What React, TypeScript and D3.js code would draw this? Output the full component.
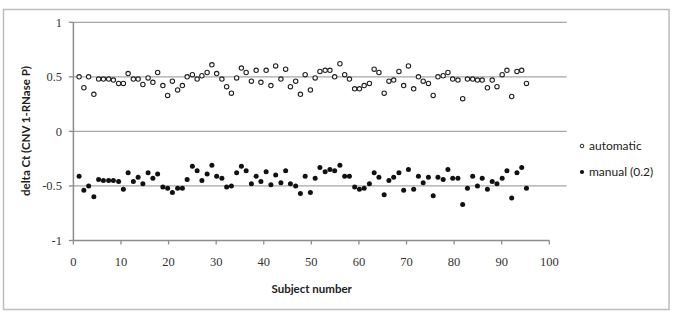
import React from "react";
import * as d3 from "d3";

// subject positions (points sit a little wider than 1 unit apart)
const subjects = [
  1.2, 2.2, 3.2, 4.3, 5.3, 6.3, 7.4, 8.4, 9.5, 10.5, 11.5, 12.6, 13.6, 14.6, 15.7, 16.7, 17.7, 18.8, 19.8, 20.8,
  21.9, 22.9, 23.9, 25.0, 26.0, 27.0, 28.1, 29.1, 30.1, 31.2, 32.2, 33.2, 34.3, 35.3, 36.3, 37.4, 38.4, 39.4, 40.5, 41.5,
  42.5, 43.6, 44.6, 45.6, 46.7, 47.7, 48.7, 49.8, 50.8, 51.8, 52.9, 53.9, 54.9, 56.0, 57.0, 58.0, 59.1, 60.1, 61.1, 62.2,
  63.2, 64.2, 65.3, 66.3, 67.3, 68.4, 69.4, 70.4, 71.5, 72.5, 73.5, 74.6, 75.6, 76.6, 77.7, 78.7, 79.7, 80.8, 81.8, 82.8,
  83.9, 84.9, 85.9, 87.0, 88.0, 89.0, 90.1, 91.1, 92.1, 93.2, 94.2, 95.2,
];

const automatic = [
  0.50, 0.40, 0.50, 0.34, 0.48, 0.48, 0.48, 0.47, 0.44, 0.44, 0.53, 0.48, 0.48, 0.43, 0.49, 0.45, 0.54, 0.42, 0.33, 0.46,
  0.38, 0.42, 0.50, 0.52, 0.48, 0.51, 0.54, 0.61, 0.53, 0.48, 0.41, 0.35, 0.49, 0.58, 0.54, 0.46, 0.56, 0.45, 0.56, 0.42,
  0.60, 0.48, 0.57, 0.41, 0.46, 0.34, 0.52, 0.38, 0.49, 0.55, 0.56, 0.56, 0.50, 0.62, 0.52, 0.48, 0.39, 0.39, 0.42, 0.44,
  0.57, 0.54, 0.35, 0.46, 0.47, 0.55, 0.42, 0.60, 0.39, 0.50, 0.46, 0.44, 0.33, 0.50, 0.51, 0.54, 0.48, 0.47, 0.30, 0.48,
  0.48, 0.47, 0.47, 0.40, 0.47, 0.41, 0.52, 0.56, 0.32, 0.55, 0.56, 0.44,
];

const manual = [
  -0.41, -0.54, -0.50, -0.60, -0.44, -0.45, -0.45, -0.45, -0.46, -0.53, -0.38, -0.46, -0.42, -0.48, -0.38, -0.43, -0.39, -0.51, -0.52, -0.56,
  -0.52, -0.52, -0.44, -0.32, -0.36, -0.45, -0.39, -0.31, -0.41, -0.43, -0.51, -0.50, -0.38, -0.32, -0.36, -0.48, -0.41, -0.46, -0.37, -0.49,
  -0.40, -0.47, -0.36, -0.48, -0.50, -0.57, -0.41, -0.56, -0.43, -0.33, -0.37, -0.35, -0.36, -0.31, -0.41, -0.41, -0.51, -0.53, -0.52, -0.48,
  -0.38, -0.42, -0.58, -0.45, -0.42, -0.38, -0.54, -0.35, -0.53, -0.41, -0.47, -0.42, -0.59, -0.42, -0.44, -0.35, -0.43, -0.43, -0.67, -0.52,
  -0.41, -0.50, -0.43, -0.53, -0.46, -0.48, -0.43, -0.36, -0.61, -0.38, -0.33, -0.52,
];

const xTicks = [0, 10, 20, 30, 40, 50, 60, 70, 80, 90, 100];
const yTicks = [-1, -0.5, 0, 0.5, 1];

const App = () => {
  const width = 675;
  const height = 324;

  const x = d3.scaleLinear().domain([0, 100]).range([73.4, 549.3]);
  const y = d3.scaleLinear().domain([-1, 1]).range([240.5, 22.3]);
  const gridRight = 566.7;

  const serif = "'Liberation Serif', 'DejaVu Serif', serif";
  const sans = "Lato, 'Open Sans', sans-serif";

  return (
    <svg
      width={width}
      height={height}
      style={{ position: "absolute", left: 0, top: 0, background: "#fff" }}
    >
      <rect x={3.5} y={9.5} width={665.5} height={300} fill="#fff" stroke="#bdbdbd" strokeWidth={1.5} />

      {/* gridlines */}
      {yTicks
        .filter((t) => t > -1)
        .map((t) => (
          <line key={t} x1={x(0)} x2={gridRight} y1={y(t)} y2={y(t)} stroke="#a6a6a6" strokeWidth={1.3} />
        ))}

      {/* y axis */}
      <line x1={x(0)} x2={x(0)} y1={y(1)} y2={y(-1)} stroke="#8c8c8c" strokeWidth={1.5} />
      {yTicks.map((t) => (
        <g key={t}>
          <line x1={x(0) - 4.5} x2={x(0)} y1={y(t)} y2={y(t)} stroke="#8c8c8c" strokeWidth={1.3} />
          <text
            x={62}
            y={y(t)}
            dy="0.35em"
            textAnchor="end"
            fontFamily={serif}
            fontSize={12.5}
            fill="#333"
          >
            {t}
          </text>
        </g>
      ))}

      {/* x axis */}
      <line x1={x(0)} x2={x(100)} y1={y(-1)} y2={y(-1)} stroke="#8c8c8c" strokeWidth={1.5} />
      {xTicks.map((t) => (
        <g key={t}>
          <line x1={x(t)} x2={x(t)} y1={y(-1)} y2={y(-1) + 4} stroke="#8c8c8c" strokeWidth={1.3} />
          <text
            x={x(t)}
            y={262}
            dy="0.35em"
            textAnchor="middle"
            fontFamily={serif}
            fontSize={12.5}
            fill="#333"
          >
            {t}
          </text>
        </g>
      ))}

      {/* points */}
      {automatic.map((v, i) => (
        <circle key={"a" + i} cx={x(subjects[i])} cy={y(v)} r={2.2} fill="#fff" stroke="#222" strokeWidth={1.1} />
      ))}
      {manual.map((v, i) => (
        <circle key={"m" + i} cx={x(subjects[i])} cy={y(v)} r={2.5} fill="#111" />
      ))}

      {/* axis titles */}
      <text x={311.7} y={288.5} dy="0.35em" textAnchor="middle" fontFamily={sans} fontWeight="bold" fontSize={11.5} fill="#222">
        Subject number
      </text>
      <text
        transform={`translate(26,131) rotate(-90)`}
        dy="0.35em"
        textAnchor="middle"
        fontFamily={sans}
        fontWeight="bold"
        fontSize={11.5}
        fill="#222"
      >
        delta Ct (CNV 1-RNase P)
      </text>

      {/* legend */}
      <circle cx={582} cy={146} r={1.8} fill="#fff" stroke="#222" strokeWidth={1} />
      <text x={589} y={146} dy="0.35em" fontFamily={sans} fontSize={12} fill="#222">
        automatic
      </text>
      <circle cx={582} cy={172} r={2.1} fill="#111" />
      <text x={589} y={172} dy="0.35em" fontFamily={sans} fontSize={12} fill="#222">
        manual (0.2)
      </text>
    </svg>
  );
};

export default App;
